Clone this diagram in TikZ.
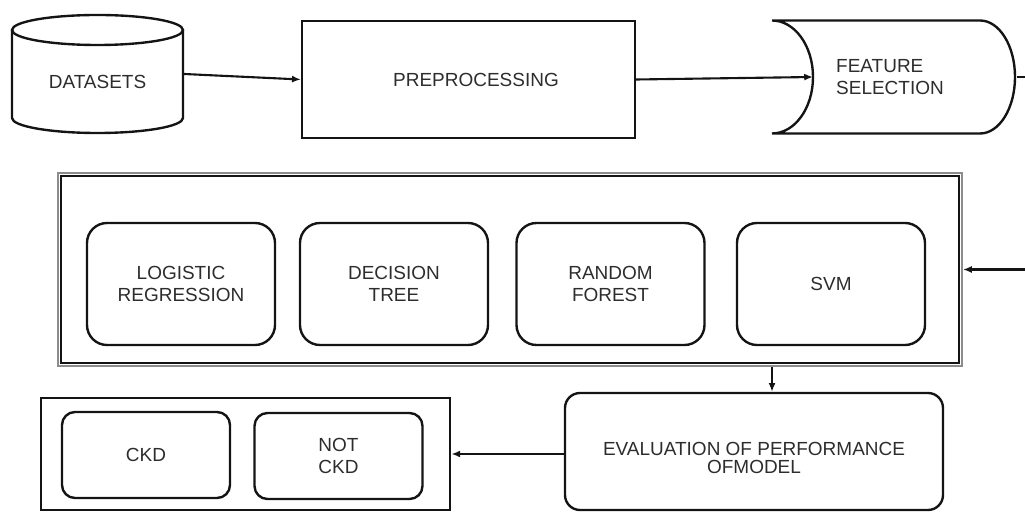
\documentclass[tikz,border=0pt]{standalone}
\usepackage{fontspec}
\setmainfont{Liberation Sans}
\usepackage{tikz}
\usetikzlibrary{arrows.meta, positioning, calc}
\definecolor{mydark}{RGB}{20,20,20}
\definecolor{mytext}{RGB}{45,45,45}
\definecolor{mygray}{RGB}{140,140,140}
\tikzset{
  procbox/.style={rectangle, draw=mydark, align=center, text=mytext,
    font=\fontsize{10.8}{12.6}\selectfont, line width=1.35pt},
  algobox/.style={rectangle, draw=mydark, align=center, text=mytext,
    minimum width=3.76cm, minimum height=2.44cm, rounded corners=0.4cm,
    font=\fontsize{10.8}{12.6}\selectfont, line width=1.35pt},
  classbox/.style={rectangle, draw=mydark, align=center, text=mytext,
    minimum width=3.36cm, minimum height=1.72cm, rounded corners=0.26cm,
    font=\fontsize{10.8}{12.6}\selectfont, line width=1.35pt},
  arrow/.style={-{Latex[length=5pt,width=4pt]}, line width=1.2pt, color=mydark},
  line/.style={line width=1.35pt, color=mydark}
}

\begin{document}
\begin{tikzpicture}
  \useasboundingbox (0,0) rectangle (20.5,10.22);
  % Datasets (cylinder)
  \node[procbox, draw=none, minimum width=3.42cm, minimum height=2.36cm] (data) at (1.95,8.74)
    {\raisebox{-0.295cm}[0pt][0pt]{DATASETS}};
  \draw[line] (1.95,9.62) ellipse[x radius=1.71, y radius=0.3];
  \draw[line] (0.24,9.62) -- (0.24,7.86) arc[start angle=180, end angle=360, x radius=1.71, y radius=0.3]
    -- (3.66,9.62);
  % Preprocessing
  \node[procbox, minimum width=6.66cm, minimum height=2.34cm] (prep) at (9.37,8.63)
    {\hspace{0.3cm}PREPROCESSING};
  % Feature selection
  \node[procbox, draw=none, anchor=west, align=left, text width=3.16cm, inner xsep=0.44cm,
    minimum height=2.26cm] (feat) at (16.26,8.68) {FEATURE\\SELECTION};
  \draw[line] (15.44,9.81) -- (19.60,9.81)
    arc[start angle=90, end angle=-90, x radius=0.70, y radius=1.13]
    -- (15.44,7.55)
    arc[start angle=-90, end angle=90, x radius=0.82, y radius=1.13];
  % Classifiers
  \node[rectangle, draw=mygray, line width=1.1pt, minimum width=18.08cm, minimum height=3.86cm] (algos) at (10.20,4.83) {};
  \draw[line] ($(algos.north west)+(0.08,-0.08)$) rectangle ($(algos.south east)+(-0.08,0.08)$);
  \node[algobox] (lr) at (3.62,4.54) {LOGISTIC\\REGRESSION};
  \node[algobox] (dt) at (7.88,4.54) {DECISION\\TREE};
  \node[algobox] (rf) at (12.21,4.54) {RANDOM\\FOREST};
  \node[algobox] (svm) at (16.62,4.54) {SVM};
  % Evaluation
  \node[procbox, rounded corners=0.3cm, minimum width=7.56cm, minimum height=2.34cm] (eval) at (15.08,1.19)
    {\raisebox{-0.445cm}[0pt][0pt]{\shortstack{EVALUATION OF PERFORMANCE\\OFMODEL}}};
  % Output classes
  \node[procbox, line width=1.6pt, minimum width=8.18cm, minimum height=2.24cm] (out) at (4.91,1.14) {};
  \node[classbox] (ckd) at (2.92,1.12) {CKD};
  \node[classbox] (notckd) at (6.77,1.10) {NOT\\CKD};
  % Connectors
  \draw[arrow] (data.east) -- (prep.west);
  \draw[arrow] (prep.east) -- (feat.west);
  \draw[arrow] (feat.east) -- ++(0.35,0) |- (algos.east);
  \coordinate (evalin) at ($(eval.north)+(0.36,0)$);
  \draw[arrow] (algos.south -| evalin) -- (evalin);
  \draw[arrow] (eval.west |- out.east) -- (out.east);
\end{tikzpicture}
\end{document}
